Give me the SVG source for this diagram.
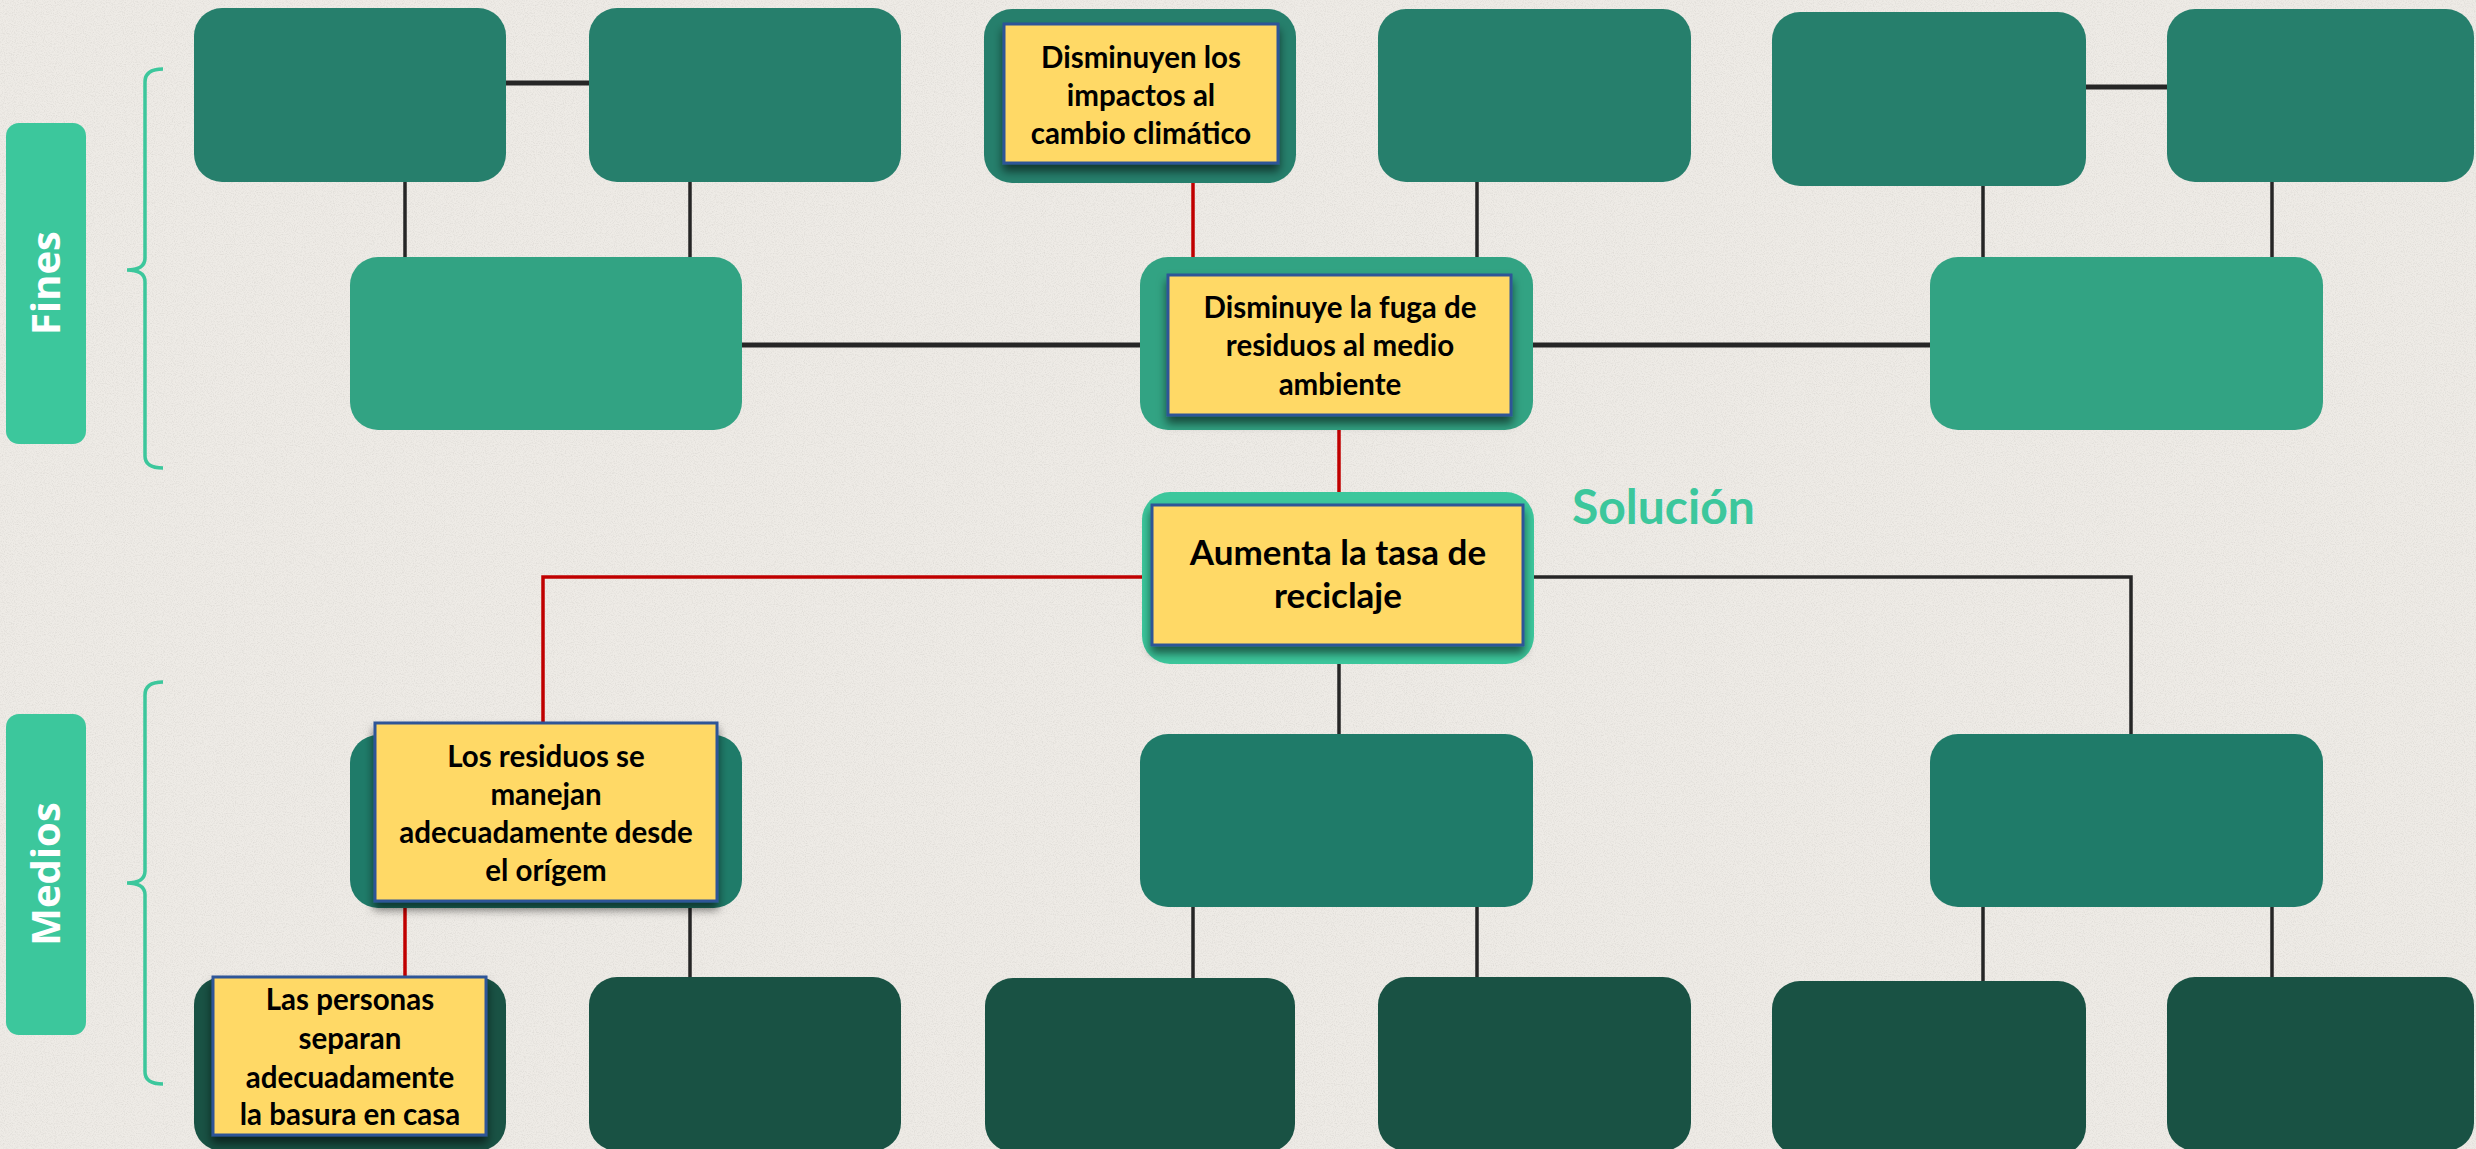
<svg xmlns="http://www.w3.org/2000/svg" width="2476" height="1149" viewBox="0 0 2476 1149">
<defs>
<filter id="sh" x="-10%" y="-10%" width="120%" height="130%">
<feDropShadow dx="0" dy="7" stdDeviation="5" flood-color="#000" flood-opacity="0.55"/>
</filter>
<filter id="paper" x="0" y="0" width="100%" height="100%">
<feTurbulence type="fractalNoise" baseFrequency="0.9" numOctaves="2" seed="3" result="n"/>
<feColorMatrix in="n" type="matrix" values="0 0 0 0 0.55  0 0 0 0 0.53  0 0 0 0 0.5  0 0 0 -2.2 1.25"/>
<feComposite operator="in" in2="SourceGraphic"/>
</filter>
<style>
.t1{fill:#267f6c}
.t2{fill:#32a383}
.t3{fill:#3cc79c}
.m1{fill:#1f7b69}
.b1{fill:#195244}
.yel{fill:#ffd966;stroke:#2f5597;stroke-width:3;filter:url(#sh)}
.txt{font-family:Lato,"Liberation Sans",sans-serif;font-weight:bold;fill:#000;text-anchor:middle}
.blk{stroke:#262626;stroke-width:3.5;fill:none}
.blkh{stroke:#262626;stroke-width:5;fill:none}
.red{stroke:#c00000;stroke-width:3.5;fill:none}
.lab{font-family:"Open Sans","Liberation Sans",sans-serif;font-weight:bold;fill:#fff;text-anchor:middle;font-size:40px}
.brace{stroke:#3cc79c;stroke-width:3.5;fill:none}
</style>
</defs>
<rect width="2476" height="1149" fill="#eeebe6"/>
<rect width="2476" height="1149" fill="#eeebe6" filter="url(#paper)" opacity="0.35"/>

<g id="connectors">
<line class="blkh" x1="506" y1="83" x2="589" y2="83"/>
<line class="blk" x1="405" y1="182" x2="405" y2="257"/>
<line class="blk" x1="690" y1="182" x2="690" y2="257"/>
<line class="blkh" x1="742" y1="345" x2="1140" y2="345"/>
<line class="red" x1="1193" y1="183" x2="1193" y2="257"/>
<line class="blk" x1="1477" y1="182" x2="1477" y2="257"/>
<line class="blkh" x1="2086" y1="87" x2="2167" y2="87"/>
<line class="blk" x1="1983" y1="186" x2="1983" y2="257"/>
<line class="blk" x1="2272" y1="182" x2="2272" y2="257"/>
<line class="blkh" x1="1533" y1="345" x2="1930" y2="345"/>
<line class="red" x1="1339" y1="430" x2="1339" y2="492"/>
<polyline class="red" points="1142,577 543,577 543,723"/>
<polyline class="blk" points="1534,577 2131,577 2131,734"/>
<line class="blk" x1="1339" y1="664" x2="1339" y2="734"/>
<line class="red" x1="405" y1="907" x2="405" y2="977"/>
<line class="blk" x1="690" y1="907" x2="690" y2="977"/>
<line class="blk" x1="1193" y1="907" x2="1193" y2="978"/>
<line class="blk" x1="1477" y1="907" x2="1477" y2="977"/>
<line class="blk" x1="1983" y1="907" x2="1983" y2="981"/>
<line class="blk" x1="2272" y1="907" x2="2272" y2="977"/>
</g>

<g id="label-fines">
<rect x="6" y="123" width="80" height="321" rx="13" class="t3"/>
<text class="lab" transform="translate(60,283) rotate(-90)">Fines</text>
<path class="brace" d="M163,69 Q145,69 145,82 L145,258 Q145,270 127,270 Q145,270 145,282 L145,456 Q145,468 163,468"/>
</g>
<g id="label-medios">
<rect x="6" y="714" width="80" height="321" rx="13" class="t3"/>
<text class="lab" transform="translate(60,874) rotate(-90)">Medios</text>
<path class="brace" d="M163,682 Q145,682 145,695 L145,871 Q145,883 127,883 Q145,883 145,895 L145,1072 Q145,1084 163,1084"/>
</g>

<g id="top1"><rect x="194" y="8" width="312" height="174" rx="28" class="t1"/></g>
<g id="top2"><rect x="589" y="8" width="312" height="174" rx="28" class="t1"/></g>
<g id="top3">
<rect x="984" y="9" width="312" height="174" rx="28" class="t1"/>
<rect x="1004" y="24" width="274" height="139" class="yel"/>
<text class="txt" font-size="29.5"><tspan x="1141" y="68">Disminuyen los</tspan><tspan x="1141" y="106">impactos al</tspan><tspan x="1141" y="144">cambio climático</tspan></text>
</g>
<g id="top4"><rect x="1378" y="9" width="313" height="173" rx="28" class="t1"/></g>
<g id="top5"><rect x="1772" y="12" width="314" height="174" rx="28" class="t1"/></g>
<g id="top6"><rect x="2167" y="9" width="307" height="173" rx="28" class="t1"/></g>

<g id="fin-left"><rect x="350" y="257" width="392" height="173" rx="28" class="t2"/></g>
<g id="fin-mid">
<rect x="1140" y="257" width="393" height="173" rx="28" class="t2"/>
<rect x="1168" y="275" width="343" height="140" class="yel"/>
<text class="txt" font-size="29.5"><tspan x="1340" y="318">Disminuye la fuga de</tspan><tspan x="1340" y="356">residuos al medio</tspan><tspan x="1340" y="395">ambiente</tspan></text>
</g>
<g id="fin-right"><rect x="1930" y="257" width="393" height="173" rx="28" class="t2"/></g>

<g id="solucion">
<rect x="1142" y="492" width="392" height="172" rx="28" class="t3"/>
<rect x="1152" y="505" width="371" height="140" class="yel"/>
<text class="txt" font-size="35"><tspan x="1338" y="565">Aumenta la tasa de</tspan><tspan x="1338" y="608">reciclaje</tspan></text>
</g>
<text x="1572" y="524" font-family="Lato,'Liberation Sans',sans-serif" font-weight="bold" font-size="48" fill="#3cc79c">Solución</text>

<g id="med-left">
<rect x="350" y="735" width="392" height="173" rx="28" class="m1"/>
<rect x="375" y="723" width="342" height="178" class="yel"/>
<text class="txt" font-size="29.5"><tspan x="546" y="767">Los residuos se</tspan><tspan x="546" y="805">manejan</tspan><tspan x="546" y="843">adecuadamente desde</tspan><tspan x="546" y="881">el orígem</tspan></text>
</g>
<g id="med-mid"><rect x="1140" y="734" width="393" height="173" rx="28" class="m1"/></g>
<g id="med-right"><rect x="1930" y="734" width="393" height="173" rx="28" class="m1"/></g>

<g id="bot1">
<rect x="194" y="977" width="312" height="174" rx="28" class="b1"/>
<rect x="213" y="977" width="273" height="158" class="yel"/>
<text class="txt" font-size="29.5"><tspan x="350" y="1010">Las personas</tspan><tspan x="350" y="1049">separan</tspan><tspan x="350" y="1088">adecuadamente</tspan><tspan x="350" y="1125">la basura en casa</tspan></text>
</g>
<g id="bot2"><rect x="589" y="977" width="312" height="174" rx="28" class="b1"/></g>
<g id="bot3"><rect x="985" y="978" width="310" height="174" rx="28" class="b1"/></g>
<g id="bot4"><rect x="1378" y="977" width="313" height="174" rx="28" class="b1"/></g>
<g id="bot5"><rect x="1772" y="981" width="314" height="174" rx="28" class="b1"/></g>
<g id="bot6"><rect x="2167" y="977" width="307" height="174" rx="28" class="b1"/></g>
</svg>
